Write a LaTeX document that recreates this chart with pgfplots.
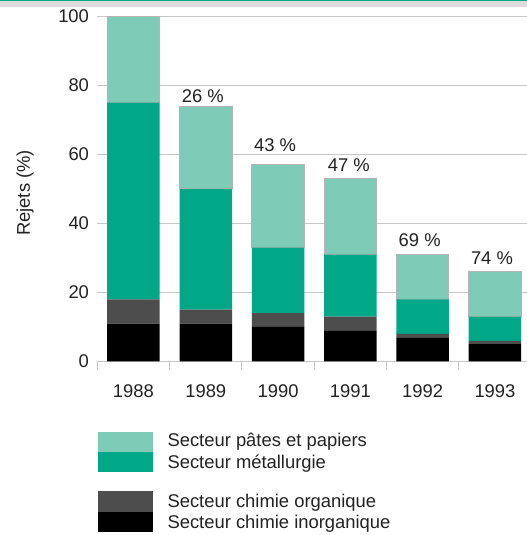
\documentclass[border=0pt]{standalone}
\usepackage{pgfplots}
\pgfplotsset{compat=1.18}
\usepackage{pgfplotstable}
\usepackage{fontspec}
\setmainfont{Liberation Sans}

\definecolor{cLight}{HTML}{7ECCB8}
\definecolor{cGreen}{HTML}{00A887}
\definecolor{cDark}{HTML}{4D4D4D}
\definecolor{cBlack}{HTML}{000000}
\definecolor{cGrid}{HTML}{C8C8C8}
\definecolor{cOutline}{HTML}{B4B4B4}
\definecolor{cBand}{HTML}{DCDCDC}
\definecolor{cText}{HTML}{222222}

\pgfplotstableread{
x inorg org metal pates
0 11 7 57 25
1 11 4 35 24
2 10 4 19 24
3 9  4 18 22
4 7  1 10 13
5 5  1 7  13
}\rejets

\begin{document}
\fontsize{18.4bp}{22bp}\selectfont
\begin{tikzpicture}
\path[use as bounding box] (0bp,0bp) rectangle (527bp,535bp);
\fill[cBand] (0bp,527.5bp) rectangle (527bp,533.5bp);
\fill[cGreen] (0bp,533.5bp) rectangle (527bp,535bp);
\begin{axis}[
  at={(97.3bp,173.5bp)}, anchor=south west,
  scale only axis, width=429.7bp, height=345bp,
  xmin=-0.5, xmax=5.443, ymin=0, ymax=100,
  ybar stacked, bar width=52.5bp,
  axis line style={draw=none},
  ytick={0,20,...,100},
  ymajorgrids, major grid style={cGrid, line width=1.1bp},
  xtick={0,...,5}, xticklabels={1988,1989,1990,1991,1992,1993},
  minor xtick={-0.5,0.5,...,5.5},
  major tick length=0bp, minor tick length=8.5bp,
  minor x tick style={cGrid, line width=1.1bp},
  tick align=outside, tick pos=left,
  xticklabel style={yshift=-17bp, text=cText},
  yticklabel style={xshift=-2bp, text=cText},
  /pgf/number format/assume math mode=true,
  clip=false,
]
\addplot[fill=cBlack, draw=none] table[x=x, y=inorg] {\rejets};
\addplot[fill=cDark, draw=none] table[x=x, y=org] {\rejets};
\addplot[fill=cGreen, draw=none] table[x=x, y=metal] {\rejets};
\addplot[fill=cLight, draw=cOutline, line width=1bp] table[x=x, y=pates] {\rejets};
\node[anchor=base, text=cText, xshift=-3bp] at (axis cs:1,75.1) {26 \%};
\node[anchor=base, text=cText, xshift=-3bp] at (axis cs:2,61.0) {43 \%};
\node[anchor=base, text=cText, xshift=-1.5bp] at (axis cs:3,55.0) {47 \%};
\node[anchor=base, text=cText, xshift=-3bp] at (axis cs:4,33.3) {69 \%};
\node[anchor=base, text=cText, xshift=-3bp] at (axis cs:5,28.0) {74 \%};
\end{axis}
\node[rotate=90, text=cText] at (25bp,342bp) {Rejets (\%)};
% legend
\fill[cLight] (97.7bp,83.3bp) rectangle (152.7bp,103.3bp);
\fill[cGreen] (97.7bp,62.7bp) rectangle (152.7bp,83.3bp);
\fill[cDark] (97.7bp,23.3bp) rectangle (152.7bp,44bp);
\fill[cBlack] (97.7bp,2.7bp) rectangle (152.7bp,22.7bp);
\node[anchor=base west, inner sep=0, text=cText] at (167.3bp,88.3bp) {Secteur pâtes et papiers};
\node[anchor=base west, inner sep=0, text=cText] at (167.3bp,66bp) {Secteur métallurgie};
\node[anchor=base west, inner sep=0, text=cText] at (167.3bp,28bp) {Secteur chimie organique};
\node[anchor=base west, inner sep=0, text=cText] at (167.3bp,6.3bp) {Secteur chimie inorganique};
\end{tikzpicture}
\end{document}
